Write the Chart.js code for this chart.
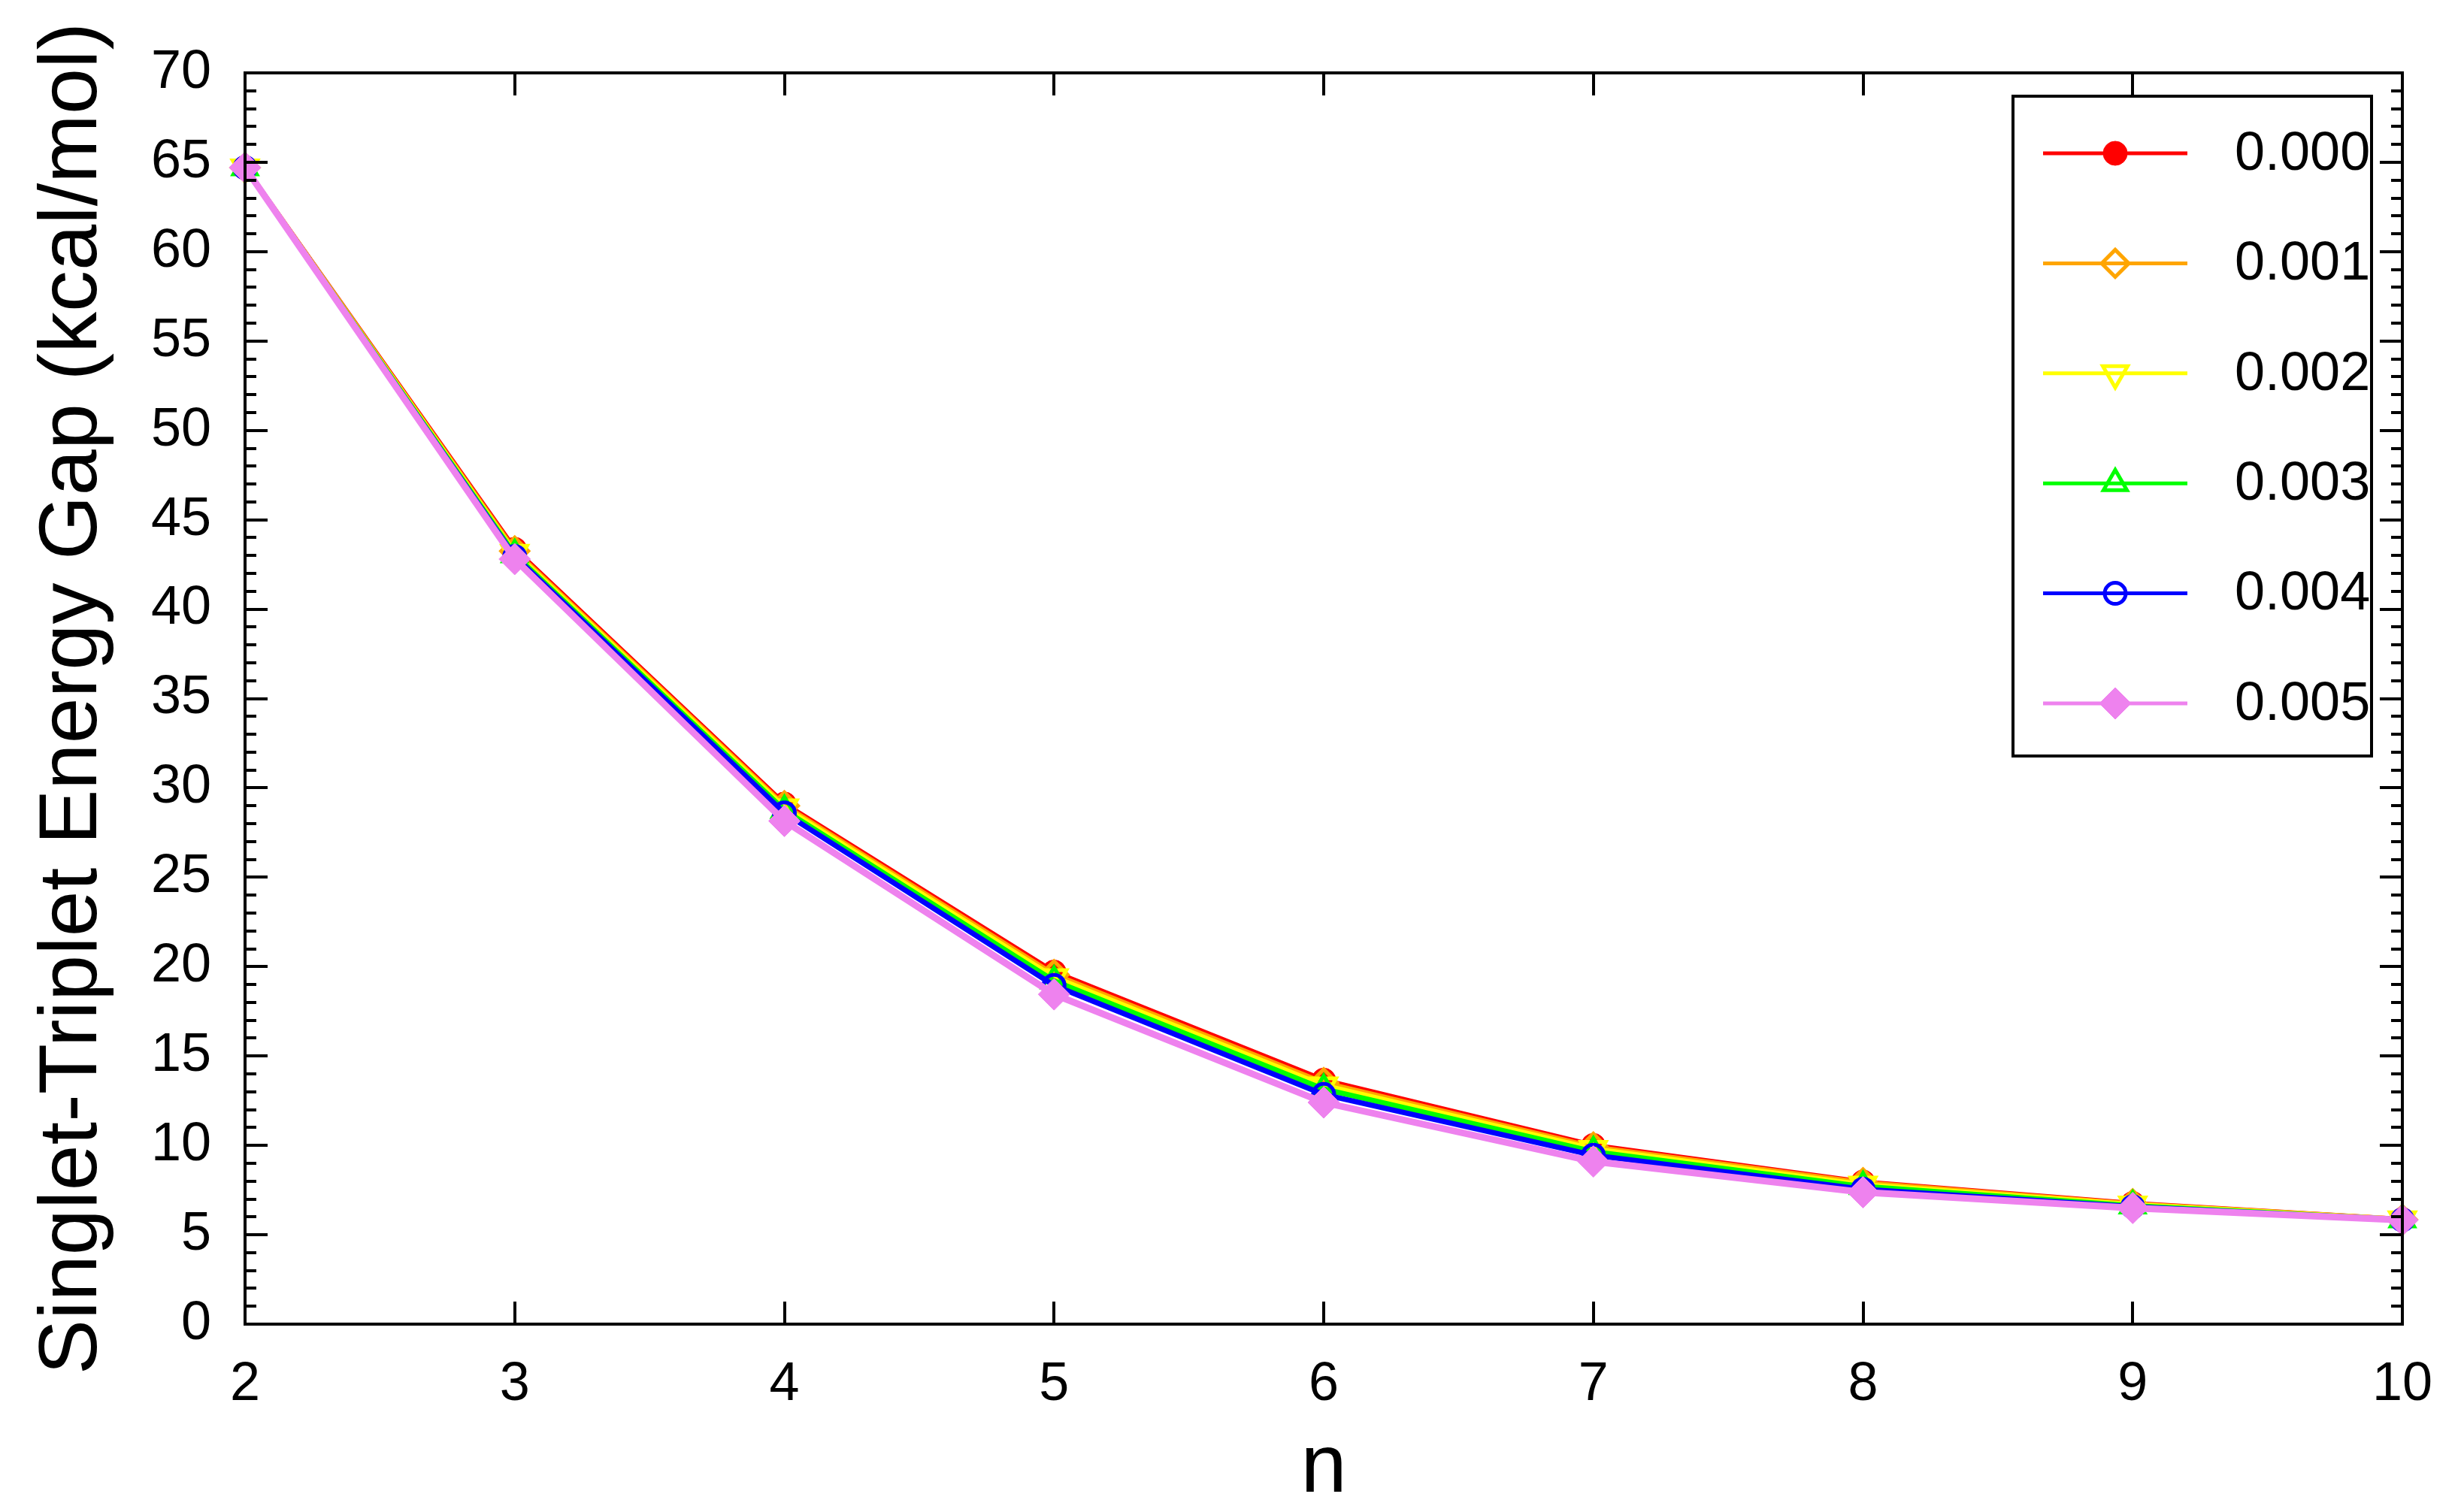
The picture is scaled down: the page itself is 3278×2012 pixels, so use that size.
<!DOCTYPE html>
<html>
<head>
<meta charset="utf-8">
<script src="https://cdn.jsdelivr.net/npm/chart.js@4.4.1/dist/chart.umd.min.js"></script>
<style>
  html, body { margin: 0; padding: 0; background: #fff; }
  #wrap { width: 3278px; height: 2012px; }
</style>
</head>
<body>
<div id="wrap"><canvas id="gapChart" width="3278" height="2012"></canvas></div>
<script>
// n (chain length) on the x axis
const nValues = [2, 3, 4, 5, 6, 7, 8, 9, 10];

// singlet-triplet gaps (kcal/mol), one array per parameter value
const gap000 = [64.7, 43.35, 29.1, 19.7, 13.65, 10.0, 7.95, 6.75, 5.85];
const gap001 = [64.7, 43.25, 29.0, 19.55, 13.5, 9.9, 7.9, 6.72, 5.85];
const gap002 = [64.7, 43.15, 28.9, 19.4, 13.35, 9.8, 7.8, 6.68, 5.85];
const gap003 = [64.7, 43.05, 28.75, 19.2, 13.15, 9.65, 7.7, 6.62, 5.84];
const gap004 = [64.7, 42.95, 28.6, 18.95, 12.85, 9.45, 7.55, 6.57, 5.83];
const gap005 = [64.7, 42.8, 28.15, 18.45, 12.4, 9.1, 7.38, 6.5, 5.82];

const seriesLabels = ['0.000', '0.001', '0.002', '0.003', '0.004', '0.005'];
const seriesData = [gap000, gap001, gap002, gap003, gap004, gap005];

const yTicks = [0, 5, 10, 15, 20, 25, 30, 35, 40, 45, 50, 55, 60, 65, 70];
const xTicks = [2, 3, 4, 5, 6, 7, 8, 9, 10];

const FONT = '"Liberation Sans", Arial, Helvetica, sans-serif';

const styles = [
    { color: '#ff0000', pointStyle: 'circle', radius: 16, fill: true, rotation: 0 },
    { color: '#ffa500', pointStyle: 'rectRot', radius: 18, fill: false, rotation: 0 },
    { color: '#ffff00', pointStyle: 'triangle', radius: 19, fill: false, rotation: 180 },
    { color: '#00ff00', pointStyle: 'triangle', radius: 18, fill: false, rotation: 0 },
    { color: '#0000ff', pointStyle: 'circle', radius: 14, fill: false, rotation: 0 },
    { color: '#ee82ee', pointStyle: 'rectRot', radius: 21, fill: true, rotation: 0 },
];

const datasets = seriesData.map((values, i) => {
    const s = styles[i];
    return {
        label: seriesLabels[i],
        data: values.map((v, k) => ({ x: nValues[k], y: v })),
        borderColor: s.color,
        backgroundColor: s.color,
        borderWidth: i === 5 ? 9 : 7,
        pointStyle: s.pointStyle,
        pointRotation: s.rotation,
        pointRadius: s.radius,
        pointBorderColor: s.color,
        pointBackgroundColor: s.fill ? s.color : 'rgba(0,0,0,0)',
        pointBorderWidth: s.fill ? 1 : 5,
        tension: 0,
        clip: false,
        order: 5 - i,
    };
});

// frame + inward ticks on all four sides
const framePlugin = {
    id: 'frame',
    afterDatasetsDraw(chart) {
        const { ctx, chartArea: a, scales } = chart;
        ctx.save();
        ctx.strokeStyle = '#000';
        ctx.lineWidth = 4;
        ctx.beginPath();
        for (let v = 0; v <= 70; v++) {
            const y = Math.round(scales.y.getPixelForValue(v));
            const len = v % 5 === 0 ? 30 : 15;
            ctx.moveTo(a.left, y); ctx.lineTo(a.left + len, y);
            ctx.moveTo(a.right, y); ctx.lineTo(a.right - len, y);
        }
        xTicks.forEach((n) => {
            const x = Math.round(scales.x.getPixelForValue(n));
            ctx.moveTo(x, a.bottom); ctx.lineTo(x, a.bottom - 30);
            ctx.moveTo(x, a.top); ctx.lineTo(x, a.top + 30);
        });
        ctx.stroke();
        ctx.strokeRect(a.left, a.top, a.right - a.left, a.bottom - a.top);
        ctx.restore();
    },
};

// boxed legend with a line sample and marker per series
const legendPlugin = {
    id: 'boxLegend',
    afterDraw(chart) {
        const { ctx, chartArea: a } = chart;
        const boxRight = a.right - 41;
        const boxLeft = boxRight - 477;
        const boxTop = a.top + 31;
        const boxH = 878;
        ctx.save();
        ctx.fillStyle = '#fff';
        ctx.fillRect(boxLeft, boxTop, 477, boxH);
        ctx.strokeStyle = '#000';
        ctx.lineWidth = 4;
        ctx.strokeRect(boxLeft, boxTop, 477, boxH);
        chart.data.datasets.forEach((ds, i) => {
            const y = boxTop + 76 + i * 146.4;
            const x0 = boxLeft + 40, x1 = boxLeft + 232, xm = (x0 + x1) / 2;
            ctx.strokeStyle = ds.borderColor;
            ctx.lineWidth = 5;
            ctx.beginPath();
            ctx.moveTo(x0, y); ctx.lineTo(x1, y);
            ctx.stroke();
            ctx.fillStyle = ds.pointBackgroundColor;
            ctx.strokeStyle = ds.pointBorderColor;
            ctx.lineWidth = ds.pointBorderWidth;
            Chart.helpers.drawPoint(ctx, {
                pointStyle: ds.pointStyle,
                rotation: ds.pointRotation,
                radius: ds.pointRadius,
                borderWidth: ds.pointBorderWidth,
            }, xm, y);
            ctx.fillStyle = '#000';
            ctx.font = '72px ' + FONT;
            ctx.textBaseline = 'middle';
            ctx.textAlign = 'left';
            ctx.fillText(ds.label, boxLeft + 295, y + 2);
        });
        ctx.restore();
    },
};

new Chart(document.getElementById('gapChart'), {
    type: 'line',
    data: { datasets },
    options: {
        responsive: false,
        animation: false,
        devicePixelRatio: 1,
        layout: { padding: { top: 97, right: 82, bottom: 0, left: 0 } },
        plugins: {
            legend: { display: false },
            tooltip: { enabled: false },
        },
        scales: {
            x: {
                type: 'linear',
                min: 2,
                max: 10,
                afterFit: (scale) => { scale.height = 250; },
                afterBuildTicks: (scale) => { scale.ticks = xTicks.map((v) => ({ value: v })); },
                grid: { display: false, drawTicks: false },
                border: { display: false },
                ticks: {
                    color: '#000',
                    padding: 38,
                    maxRotation: 0,
                    font: { family: FONT, size: 72 },
                },
                title: {
                    display: true,
                    text: 'n',
                    color: '#000',
                    font: { family: FONT, size: 110, lineHeight: 1 },
                    padding: { top: 0, bottom: 2 },
                },
            },
            y: {
                type: 'linear',
                min: 0,
                max: 70,
                afterFit: (scale) => { scale.width = 326; },
                afterBuildTicks: (scale) => { scale.ticks = yTicks.map((v) => ({ value: v })); },
                grid: { display: false, drawTicks: false },
                border: { display: false },
                ticks: {
                    color: '#000',
                    padding: 45,
                    font: { family: FONT, size: 72 },
                },
                title: {
                    display: true,
                    text: 'Singlet-Triplet Energy Gap (kcal/mol)',
                    color: '#000',
                    font: { family: FONT, size: 110, lineHeight: 1 },
                    padding: { top: 43, bottom: 0 },
                },
            },
        },
    },
    plugins: [framePlugin, legendPlugin],
});
</script>
</body>
</html>
